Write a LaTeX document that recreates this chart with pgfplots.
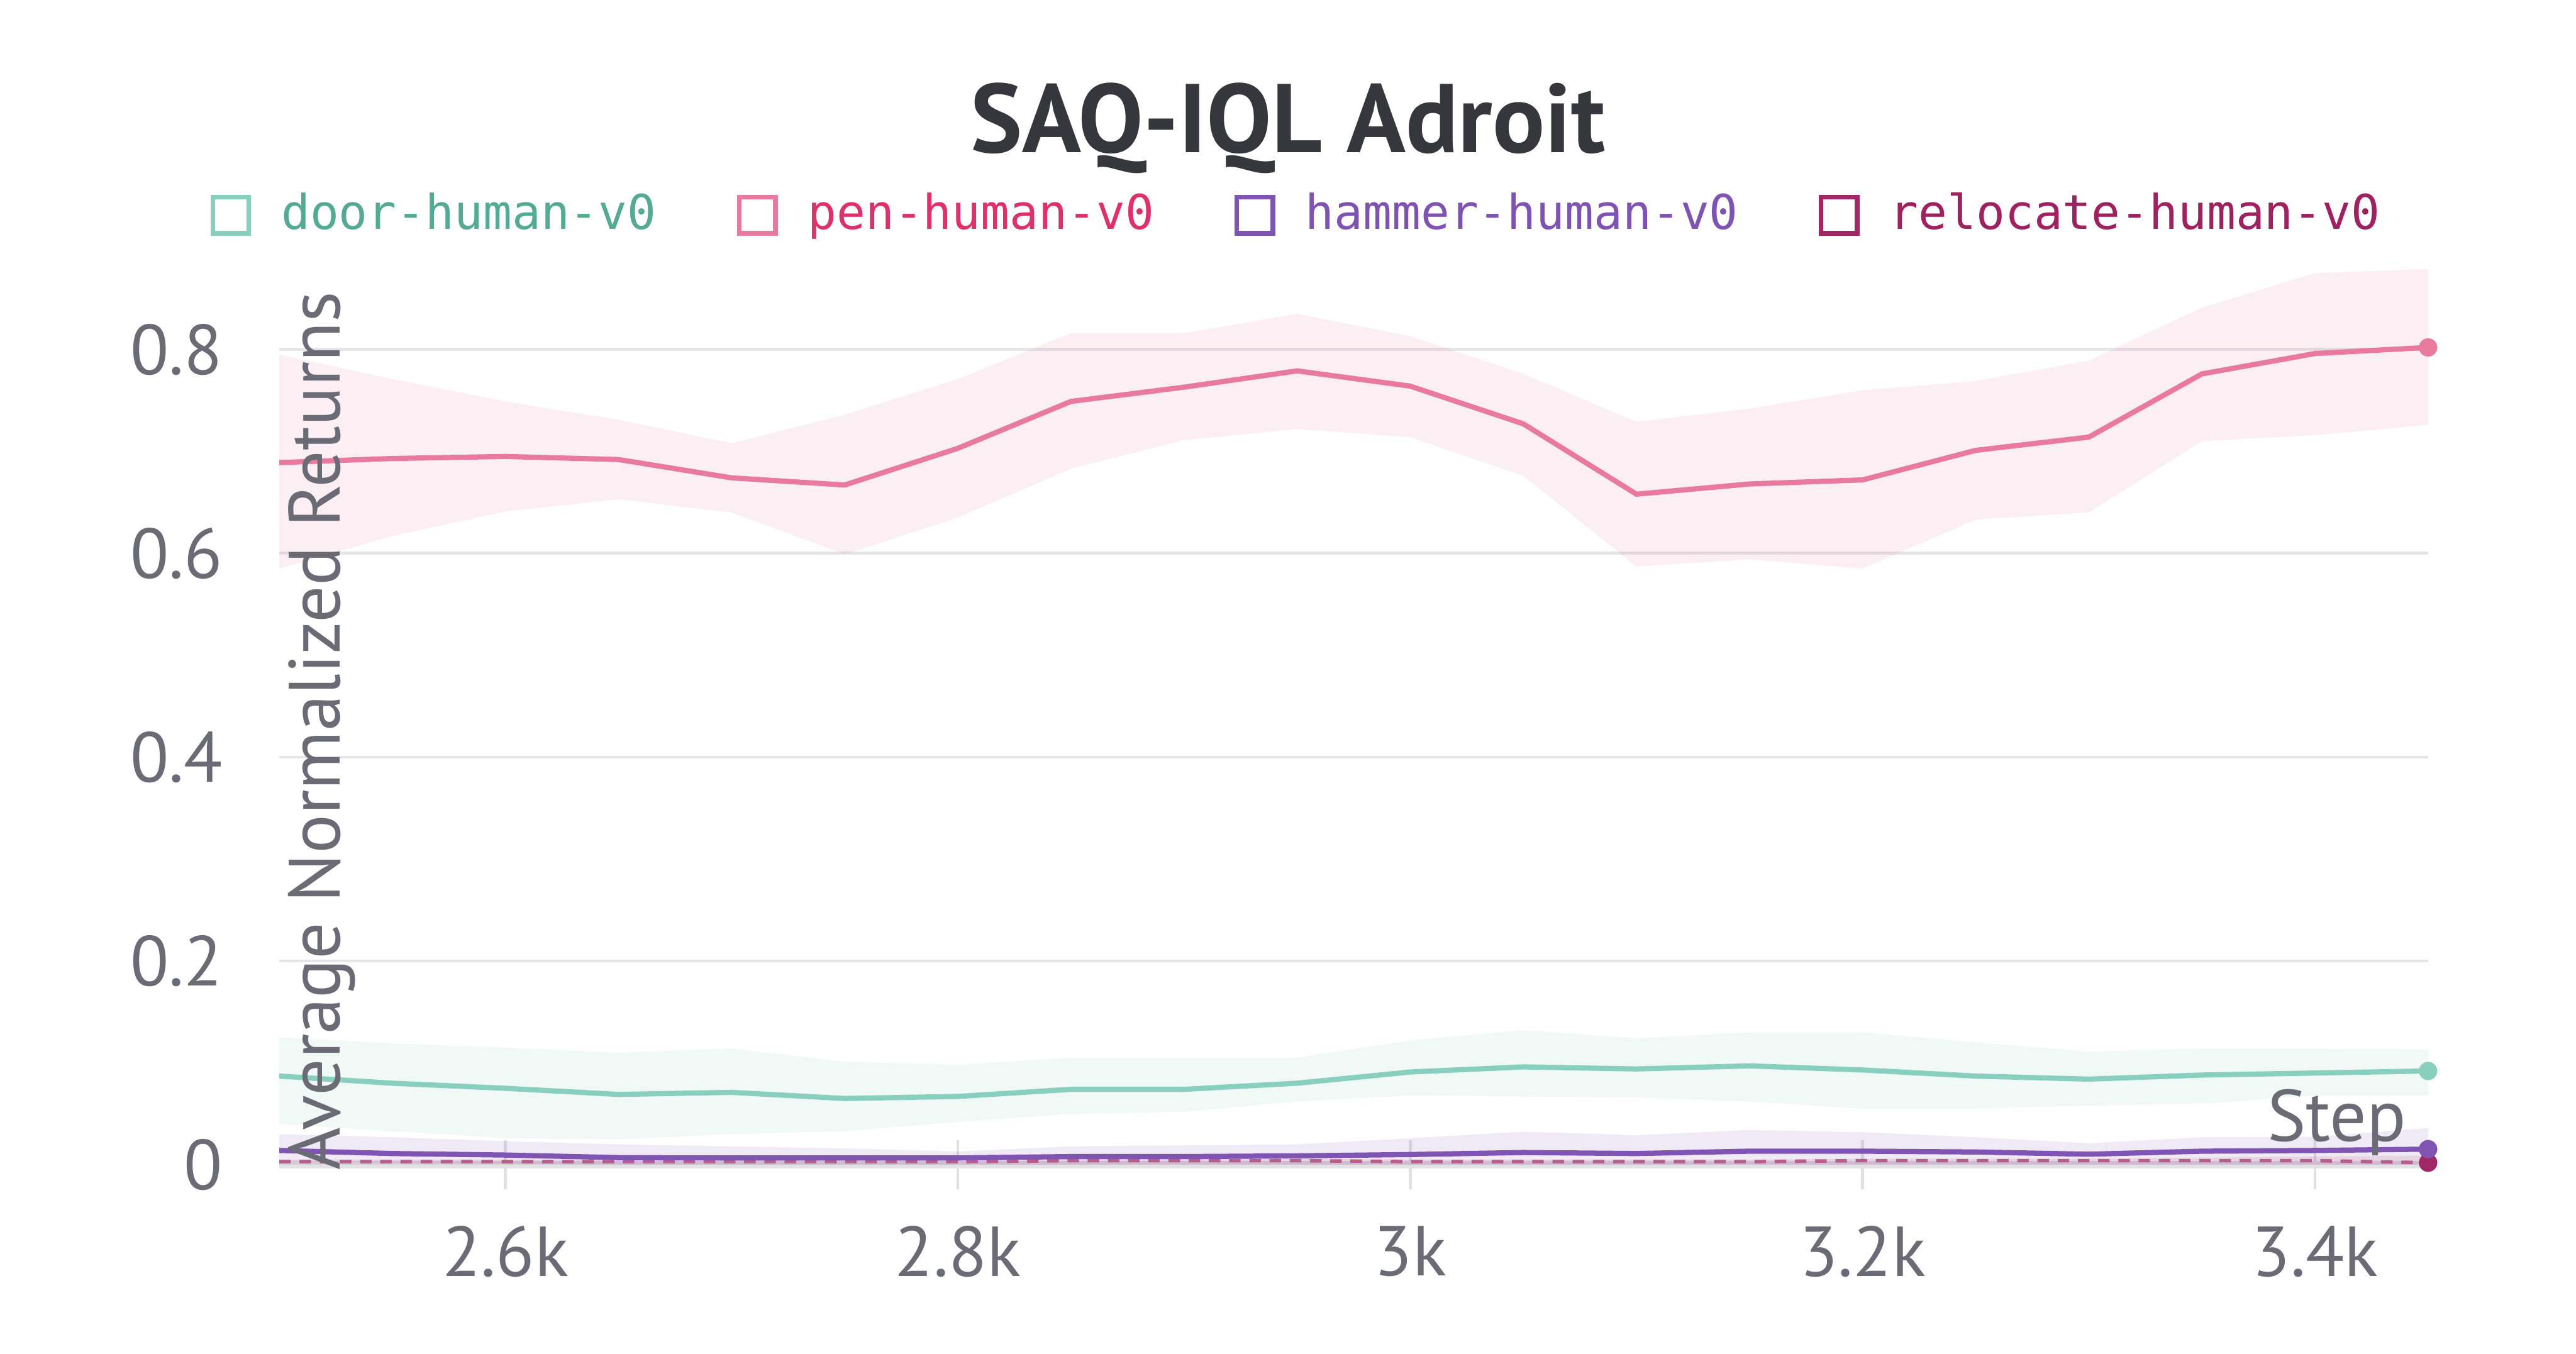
\documentclass[border=0pt]{standalone}
\usepackage{fontspec}
\setmainfont{PT Sans}
\newfontfamily\legfont{DejaVu Sans Mono}
\usepackage{pgfplots}
\pgfplotsset{compat=1.18}

\definecolor{penc}{HTML}{E87A9E}
\definecolor{doorc}{HTML}{88CFBD}
\definecolor{hammerc}{HTML}{7F54B3}
\definecolor{relocc}{HTML}{A12864}
\definecolor{pentext}{HTML}{DE3069}
\definecolor{doortext}{HTML}{55AA93}
\definecolor{hammertext}{HTML}{7E53B2}
\definecolor{reloctext}{HTML}{9F2260}
\definecolor{labelgray}{HTML}{6B6B76}
\definecolor{titlec}{HTML}{36373C}
\definecolor{gridgray}{HTML}{E6E6EA}
\definecolor{axisgray}{HTML}{E3E3E6}
\definecolor{tickgray}{HTML}{E0E0E4}

\begin{document}
\begin{tikzpicture}
\path[use as bounding box] (-1.70cm,-1.15cm) rectangle (13.98cm,7.09cm);
\begin{axis}[
  scale only axis, width=13.08cm, height=5.49cm,
  xmin=2500, xmax=3450, ymin=0, ymax=0.885,
  clip=false,
  axis lines*=left,
  x axis line style={-, draw=axisgray, line width=1.4pt},
  y axis line style={draw=none},
  xtick={2600,2800,3000,3200,3400},
  xticklabels={2.6k,2.8k,3k,3.2k,3.4k},
  ytick={0,0.2,0.4,0.6,0.8},
  yticklabels={0,0.2,0.4,0.6,0.8},
  ymajorgrids, grid style={draw=gridgray, line width=0.5pt},
  tick align=center, major tick length=0.3cm,
  xtick style={draw=tickgray, line width=0.5pt},
  ytick style={draw=none},
  tick label style={font=\fontsize{12.25}{14}\selectfont, text=labelgray},
  yticklabel style={xshift=-0.07cm},
  xticklabel style={yshift=-0.1cm},
  title={SAQ-IQL Adroit},
  title style={at={(axis description cs:0.4694,1.111)}, anchor=center, yshift=0pt,
    font=\fontsize{16.9}{20}\selectfont\bfseries, text=titlec},
  ylabel={Average Normalized Returns},
  ylabel style={at={(axis description cs:0.0199,0.481)}, anchor=center,
    font=\fontsize{12.6}{14}\selectfont, text=labelgray},
  xlabel={Step},
  xlabel style={at={(axis description cs:0.9878,0.047)}, anchor=east, xshift=0.15cm,
    font=\fontsize{12.6}{14}\selectfont, text=labelgray},
  legend columns=4,
  legend cell align=left,
  legend style={draw=none, fill=none, at={(axis description cs:0.4755,1.0528)}, anchor=center,
    font=\legfont\fontsize{8.3}{10}\selectfont,
    /tikz/every even column/.append style={column sep=0.42cm}},
  legend image code/.code={\draw[#1, line width=0.8pt, fill=white] (-0.10cm,-0.11cm) rectangle (0.12cm,0.11cm);
    \path (0.24cm,0cm);},
]
\addlegendimage{draw=doorc}
\addlegendentry{\textcolor{doortext}{door-human-v0}}
\addlegendimage{draw=penc}
\addlegendentry{\textcolor{pentext}{pen-human-v0}}
\addlegendimage{draw=hammerc}
\addlegendentry{\textcolor{hammertext}{hammer-human-v0}}
\addlegendimage{draw=relocc}
\addlegendentry{\textcolor{reloctext}{relocate-human-v0}}

% pen band (upper forward, lower backward)
\addplot[draw=none, fill=penc, fill opacity=0.12, forget plot] coordinates {
(2500,0.795) (2550,0.771) (2600,0.749) (2650,0.731) (2700,0.708) (2750,0.736)
(2800,0.771) (2850,0.816) (2900,0.816) (2950,0.835) (3000,0.813) (3050,0.776)
(3100,0.729) (3150,0.742) (3200,0.760) (3250,0.769) (3300,0.789) (3350,0.841)
(3400,0.875) (3450,0.879)
(3450,0.726) (3400,0.716) (3350,0.710) (3300,0.640) (3250,0.633) (3200,0.585)
(3150,0.594) (3100,0.587) (3050,0.676) (3000,0.714) (2950,0.722) (2900,0.711)
(2850,0.683) (2800,0.635) (2750,0.599) (2700,0.640) (2650,0.653) (2600,0.641)
(2550,0.617) (2500,0.585)};
% door band
\addplot[draw=none, fill=doorc, fill opacity=0.12, forget plot] coordinates {
(2500,0.125) (2550,0.119) (2600,0.115) (2650,0.110) (2700,0.114) (2750,0.101)
(2800,0.098) (2850,0.105) (2900,0.105) (2950,0.105) (3000,0.122) (3050,0.132)
(3100,0.124) (3150,0.130) (3200,0.130) (3250,0.120) (3300,0.111) (3350,0.114)
(3400,0.114) (3450,0.113)
(3450,0.068) (3400,0.068) (3350,0.060) (3300,0.058) (3250,0.055) (3200,0.055)
(3150,0.062) (3100,0.066) (3050,0.067) (3000,0.068) (2950,0.062) (2900,0.052)
(2850,0.050) (2800,0.042) (2750,0.033) (2700,0.030) (2650,0.025) (2600,0.026)
(2550,0.033) (2500,0.040)};
% hammer band
\addplot[draw=none, fill=hammerc, fill opacity=0.12, forget plot] coordinates {
(2500,0.030) (2550,0.027) (2600,0.023) (2650,0.020) (2700,0.018) (2750,0.016)
(2800,0.013) (2850,0.018) (2900,0.019) (2950,0.020) (3000,0.026) (3050,0.0325)
(3100,0.029) (3150,0.034) (3200,0.032) (3250,0.027) (3300,0.021) (3350,0.027)
(3400,0.0275) (3450,0.036)
(3450,0.000) (3400,0.000) (3300,0.000) (3200,0.000) (3100,0.000) (3000,0.000)
(2900,0.000) (2800,0.000) (2700,0.000) (2650,0.000) (2600,0.001) (2550,0.002)
(2500,0.003)};
% relocate band
\addplot[draw=none, fill=relocc, fill opacity=0.12, forget plot] coordinates {
(2500,0.005) (2800,0.005) (2850,0.006) (2950,0.006) (3000,0.005) (3150,0.005)
(3200,0.006) (3300,0.006) (3350,0.007) (3400,0.008) (3450,0.009)
(3450,0.000) (2500,0.000)};

% relocate line
\addplot[relocc!75, line width=0.6pt, dash pattern=on 2pt off 1.5pt, forget plot] coordinates {
(2500,0.003) (2550,0.003) (2600,0.003) (2650,0.003) (2700,0.003) (2750,0.003)
(2800,0.003) (2850,0.004) (2900,0.004) (2950,0.004) (3000,0.003) (3050,0.003)
(3100,0.003) (3150,0.003) (3200,0.004) (3250,0.004) (3300,0.004) (3350,0.004)
(3400,0.004) (3450,0.002)};
\addplot[relocc, only marks, mark=*, mark size=1.4pt, forget plot] coordinates {(3450,0.002)};
% door line
\addplot[doorc, line width=0.9pt, forget plot] coordinates {
(2500,0.087) (2550,0.080) (2600,0.075) (2650,0.069) (2700,0.071) (2750,0.065)
(2800,0.067) (2850,0.074) (2900,0.074) (2950,0.080) (3000,0.091) (3050,0.096)
(3100,0.094) (3150,0.097) (3200,0.093) (3250,0.087) (3300,0.084) (3350,0.088)
(3400,0.090) (3450,0.092)};
\addplot[doorc, only marks, mark=*, mark size=1.4pt, forget plot] coordinates {(3450,0.092)};
% hammer line
\addplot[hammerc, line width=0.9pt, forget plot] coordinates {
(2500,0.0140) (2550,0.0110) (2600,0.0095) (2650,0.0070) (2700,0.0067) (2750,0.0067)
(2800,0.0067) (2850,0.0080) (2900,0.0080) (2950,0.0087) (3000,0.0100) (3050,0.0120)
(3100,0.0110) (3150,0.0133) (3200,0.0133) (3250,0.0125) (3300,0.0103) (3350,0.0133)
(3400,0.0140) (3450,0.0153)};
\addplot[hammerc, only marks, mark=*, mark size=1.4pt, forget plot] coordinates {(3450,0.0153)};
% pen line
\addplot[penc, line width=0.9pt, forget plot] coordinates {
(2500,0.689) (2550,0.693) (2600,0.695) (2650,0.692) (2700,0.674) (2750,0.667)
(2800,0.703) (2850,0.749) (2900,0.763) (2950,0.779) (3000,0.764) (3050,0.727)
(3100,0.658) (3150,0.668) (3200,0.672) (3250,0.701) (3300,0.714) (3350,0.776)
(3400,0.796) (3450,0.802)};
\addplot[penc, only marks, mark=*, mark size=1.4pt, forget plot] coordinates {(3450,0.802)};
\end{axis}
\end{tikzpicture}
\end{document}
